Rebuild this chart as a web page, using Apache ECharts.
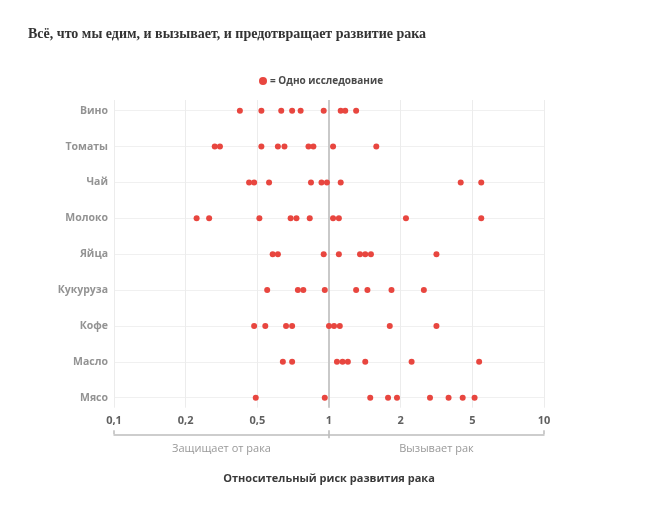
<!DOCTYPE html>
<html>
<head>
<meta charset="utf-8">
<script src="https://cdn.jsdelivr.net/npm/echarts@6/dist/echarts.min.js"></script>
<style>
html,body{margin:0;padding:0;background:#fff;}
#chart{width:660px;height:506px;}
</style>
</head>
<body>
<div id="chart"></div>
<script>
// ---- data ----
var titleText = 'Всё, что мы едим, и вызывает, и предотвращает развитие рака';
var legendName = '= Одно исследование';
var categories = ['Вино', 'Томаты', 'Чай', 'Молоко', 'Яйца', 'Кукуруза', 'Кофе', 'Масло', 'Мясо'];
var tickValues = [0.1, 0.2, 0.5, 1, 2, 5, 10];
var tickLabels = ['0,1', '0,2', '0,5', '1', '2', '5', '10'];
var wine     = [0.40, 0.52, 0.63, 0.70, 0.76, 0.95, 1.12, 1.17, 1.30];
var tomatoes = [0.29, 0.31, 0.52, 0.61, 0.65, 0.82, 0.86, 1.04, 1.58];
var tea      = [0.45, 0.48, 0.56, 0.84, 0.93, 0.98, 1.12, 4.31, 5.45];
var milk     = [0.23, 0.27, 0.51, 0.69, 0.73, 0.83, 1.04, 1.10, 2.14, 5.45];
var eggs     = [0.58, 0.61, 0.95, 1.10, 1.35, 1.42, 1.50, 3.16];
var corn     = [0.55, 0.74, 0.78, 0.96, 1.30, 1.45, 1.83, 2.69];
var coffee   = [0.48, 0.54, 0.66, 0.70, 1.00, 1.05, 1.11, 1.80, 3.16];
var butter   = [0.64, 0.70, 1.08, 1.14, 1.20, 1.42, 2.30, 5.34];
var meat     = [0.49, 0.96, 1.49, 1.77, 1.93, 2.91, 3.69, 4.42, 5.11];
var protectLabel = 'Защищает от рака';
var causeLabel = 'Вызывает рак';
var axisTitle = 'Относительный риск развития рака';

var rows = [wine, tomatoes, tea, milk, eggs, corn, coffee, butter, meat];

// piecewise-log scale: equally spaced ticks 0.1,0.2,0.5,1,2,5,10
function toPos(v) {
  for (var i = 0; i < tickValues.length - 1; i++) {
    var a = tickValues[i], b = tickValues[i + 1];
    if (v <= b || i === tickValues.length - 2) {
      return i + Math.log(v / a) / Math.log(b / a);
    }
  }
}
var oneIdx = tickValues.indexOf(1);

var points = [];
rows.forEach(function (arr, r) {
  arr.forEach(function (v) { points.push([toPos(v), r]); });
});

var font = 'Open Sans';
var chart = echarts.init(document.getElementById('chart'));
var option = {
  animation: false,
  backgroundColor: '#fff',
  title: {
    text: titleText,
    left: 23, top: 22,
    textStyle: { fontFamily: 'Liberation Serif', fontWeight: 'bold', fontSize: 14, color: '#333' }
  },
  legend: {
    left: 254, top: 71,
    icon: 'circle', itemWidth: 8, itemHeight: 8, itemGap: 4,
    data: [legendName],
    textStyle: { fontFamily: font, fontSize: 10, fontWeight: 'bold', color: '#4a4a4a', padding: [0, 0, 0, -2] }
  },
  grid: [
    { left: 114, right: 116, top: 110.7, height: 287, containLabel: false },
    { left: 114, right: 116, top: 100, height: 307.7, containLabel: false }
  ],
  xAxis: [
    { gridIndex: 0, type: 'value', min: 0, max: 6, show: false },
    {
      gridIndex: 1, type: 'value', min: 0, max: 6, interval: 1,
      axisLine: { show: false }, axisTick: { show: false },
      splitLine: { show: true, lineStyle: { color: '#ececec', width: 1 } },
      axisLabel: {
        margin: 8, fontFamily: font, fontSize: 11, fontWeight: 'bold', color: '#606060',
        formatter: function (v) { return tickLabels[Math.round(v)]; }
      }
    },
    {
      gridIndex: 1, type: 'value', min: 0, max: 6, interval: 1.5, position: 'bottom', offset: 26.6,
      axisLine: { show: true, lineStyle: { color: '#bdbdbd', width: 1.5 } },
      axisTick: { show: true, inside: true, length: 4, customValues: [0, 6], lineStyle: { color: '#bdbdbd', width: 1.5 } },
      splitLine: { show: false },
      axisLabel: {
        customValues: [1.5, 4.5], margin: 9,
        fontFamily: font, fontSize: 11, color: '#999',
        formatter: function (v) { return v < oneIdx ? protectLabel : causeLabel; }
      },
      name: axisTitle, nameLocation: 'middle', nameGap: 39,
      nameTextStyle: { fontFamily: font, fontSize: 11, fontWeight: 'bold', color: '#3a3a3a' }
    }
  ],
  yAxis: [
    {
      gridIndex: 0, type: 'value', min: 0, max: categories.length - 1, interval: 1, inverse: true,
      axisLine: { show: false }, axisTick: { show: false },
      splitLine: { show: true, lineStyle: { color: '#f0f0f0', width: 1 } },
      axisLabel: {
        margin: 6, fontFamily: font, fontSize: 10.5, fontWeight: 'bold', color: '#939393',
        formatter: function (v) { return categories[Math.round(v)]; }
      }
    },
    { gridIndex: 1, type: 'value', min: 0, max: 1, show: false }
  ],
  series: [
    {
      name: legendName, type: 'scatter', xAxisIndex: 0, yAxisIndex: 0,
      symbol: 'circle', symbolSize: 6,
      itemStyle: { color: '#e8463f', opacity: 1 },
      data: points, z: 5
    },
    {
      name: 'ref', type: 'scatter', xAxisIndex: 1, yAxisIndex: 1, data: [],
      markLine: {
        silent: true, symbol: 'none', animation: false,
        label: { show: false },
        lineStyle: { color: '#c9c9c9', width: 2, type: 'solid' },
        data: [{ xAxis: oneIdx }]
      }, z: 1
    }
  ]
};
chart.setOption(option);

// small center tick of the bracket crossing the bracket line at RR = 1
var px = chart.convertToPixel({ xAxisIndex: 2 }, oneIdx);
var bottomPx = chart.convertToPixel({ yAxisIndex: 1 }, 0);
chart.setOption({
  graphic: [{
    type: 'line', silent: true,
    shape: { x1: px, y1: bottomPx + 22.6, x2: px, y2: bottomPx + 30.6 },
    style: { stroke: '#c9c9c9', lineWidth: 2 }
  }]
});
</script>
</body>
</html>
